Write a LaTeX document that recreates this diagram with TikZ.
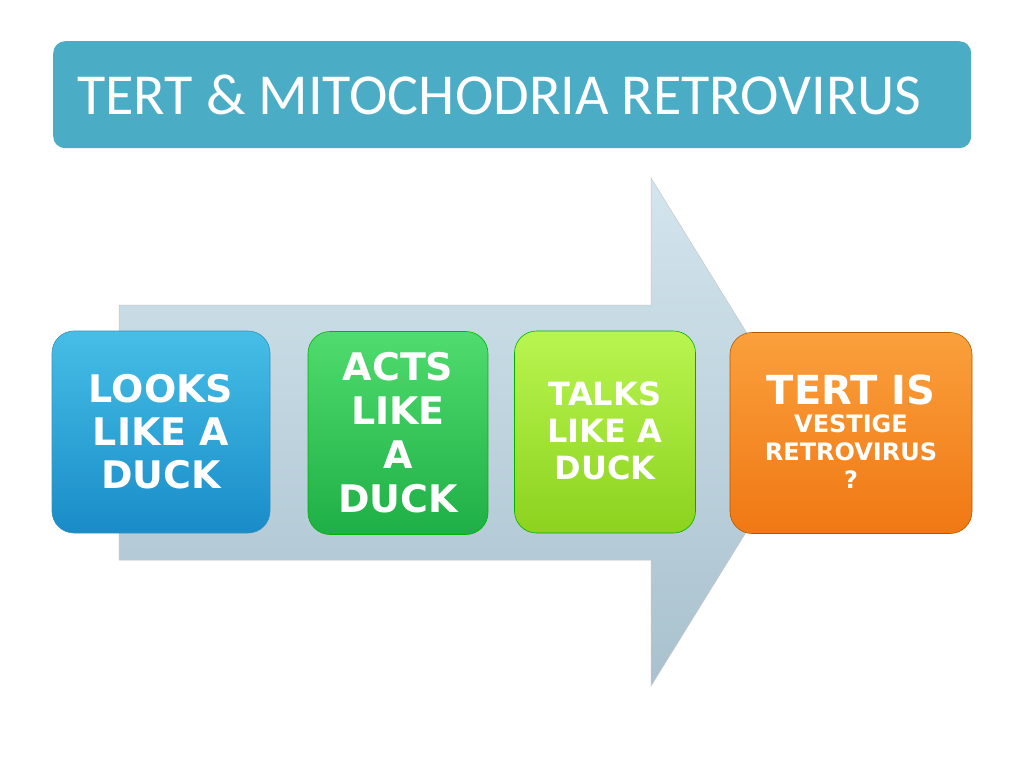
\documentclass[tikz,border=0pt]{standalone}
\usepackage{fontspec}
\setmainfont{Carlito}
\newfontfamily\boxfont{DejaVu Sans}
\begin{document}
\begin{tikzpicture}[x=1pt,y=-1pt]
\definecolor{titlebg}{HTML}{4BACC6}
\definecolor{arrtop}{HTML}{D3E5EE}
\definecolor{arrbot}{HTML}{A9C1CE}
\tikzset{
 card/.style={rounded corners=22pt, draw=#1!70!black, line width=0.6pt, inner sep=0pt},
 lbl/.style={font=\boxfont\bfseries, text=white, align=center, inner sep=0pt},
}
\useasboundingbox (0,0) rectangle (1024,768);
\fill[white] (0,0) rectangle (1024,768);
% title
\node[fill=titlebg, rounded corners=12pt, minimum width=918pt, minimum height=107pt, anchor=north west, inner sep=0pt] (title) at (53,41) {};
\node[anchor=west, text=white, font=\fontsize{58}{58}\selectfont, inner sep=0pt] (ttext) at (77,95) {TERT \& MITOCHODRIA RETROVIRUS};
% arrow
\path[top color=arrtop, bottom color=arrbot, draw=gray!45, line width=0.5pt]
 (119,305) -- (651,305) -- (651,178) -- (808,432) -- (651,686) -- (651,560) -- (119,560) -- cycle;
% cards
\node[card=cyan, top color={rgb,255:red,70;green,190;blue,230}, bottom color={rgb,255:red,25;green,140;blue,200}, minimum width=218pt, minimum height=202pt] (b1) at (161,432) {};
\node[lbl, font=\boxfont\bfseries\fontsize{38}{43}\selectfont] (t1) at (161,432) {LOOKS\\LIKE A\\DUCK};
\node[card=green, top color={rgb,255:red,80;green,220;blue,110}, bottom color={rgb,255:red,30;green,175;blue,70}, minimum width=180pt, minimum height=203pt] (b2) at (398,433) {};
\node[lbl, font=\boxfont\bfseries\fontsize{38}{44}\selectfont] (t2) at (398,433) {ACTS\\LIKE\\A\\DUCK};
\node[card=green, top color={rgb,255:red,185;green,245;blue,80}, bottom color={rgb,255:red,140;green,210;blue,30}, minimum width=181pt, minimum height=202pt] (b3) at (605,432) {};
\node[lbl, font=\boxfont\bfseries\fontsize{32}{37}\selectfont] (t3) at (605,431) {TALKS\\LIKE A\\DUCK};
\node[card=orange, top color={rgb,255:red,250;green,160;blue,60}, bottom color={rgb,255:red,240;green,120;blue,20}, minimum width=242pt, minimum height=201pt] (b4) at (851,433) {};
\node[lbl, font=\boxfont\bfseries\fontsize{24}{28}\selectfont] (t4) at (851,432) {{\fontsize{40}{42}\selectfont TERT IS}\\VESTIGE\\RETROVIRUS\\?};
\end{tikzpicture}
\end{document}
